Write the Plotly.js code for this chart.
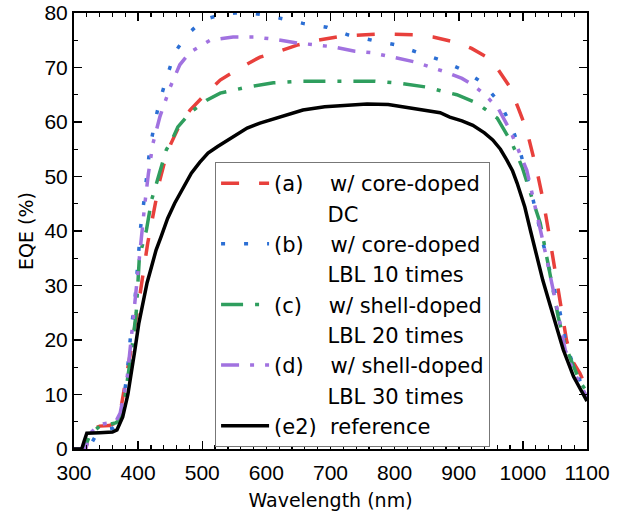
<!DOCTYPE html>
<html>
<head>
<meta charset="utf-8">
<script src="https://cdn.plot.ly/plotly-3.0.1.min.js"></script>
<style>html,body{margin:0;padding:0;background:#fff;}#chart{width:622px;height:513px;}</style>
</head>
<body>
<div id="chart"></div>
<script>
// (a) w/ core-doped DC
const wlA  = [300,318,326,340,355,366,374,382,390,400,405,410,415,421,427,434,442,451,465,481,500,528,560,590,620,648,680,710,740,772,800,829,860,882,900,920,944,962,980,993,1006,1022,1031,1040,1047,1058,1068,1078,1089,1100];
const eqeA = [0,0,3.5,4.2,4.3,4.8,8,14,19,26.1,30,34.1,37.8,41.5,45.5,49.4,53,56,59.5,62.2,64.5,67.7,70,71.9,73,74.1,75,75.6,75.9,76.1,76.1,76,75.6,75,74.5,73.5,71.9,69.5,66.4,62.5,58.5,51,46,40,35.2,27,20,16,13.9,11];
// (b) w/ core-doped LBL 10 times
const wlB  = [300,322,327,334,345,360,368,376,383,389,395,400,404,409,418,426,434,445,457,476,495,512,530,551,575,600,621,657,694,727,765,804,835,871,907,936,964,983,995,1016,1031,1045,1058,1068,1080,1090,1100];
const eqeB = [0,0,1,2.5,3.5,3.8,4.5,8,14,21.8,27.3,34,40.8,45.4,54.9,60,64,68.3,72.7,76,78,79.1,79.7,80,80,79.6,79.1,78.1,77.4,76,75,74.1,72.8,71.4,69.5,67.3,63.5,59.1,54.9,45.7,38,31,25,19,15,12.3,10];
// (c) w/ shell-doped LBL 20 times
const wlC  = [300,316,325,340,355,365,372,380,390,397,402,407,413,421,431,444,452,462,481,507,528,570,611,652,689,727,769,808,850,879,897,928,960,983,999,1013,1027,1042,1055,1066,1078,1089,1100];
const eqeC = [0,0,2.6,4.2,4.5,4.8,5.3,10,18.2,25,35.3,37.5,40.2,45.7,49.9,54.9,56.5,59.1,61.7,64,65.3,66.4,67.2,67.5,67.5,67.5,67.5,67.1,66.4,65.5,65,63.5,60.7,56.1,51.7,46.5,41.5,32.3,24.3,19,15.5,12.3,10.5];
// (d) w/ shell-doped LBL 30 times
const wlD  = [300,318,326,340,355,365,372,383,389,394,400,405,410,416,423,434,450,465,481,512,548,580,611,648,704,738,765,797,832,855,879,905,922,938,961,980,995,1006,1018,1031,1053,1066,1078,1089,1100];
const eqeD = [0,0,3,4.5,4.8,5,6.6,13.2,20,26,32.3,38.5,44.5,50.5,56,61,66.4,70.5,72.8,75,75.6,75.6,75.2,74.5,73.8,73,72.7,71.9,71,70.1,69.2,68,66.8,65.3,62.6,58.5,54.3,51.2,45,38.3,26,18.2,14.5,12.1,9.5];
// (e2) reference
const wlE  = [300,312,316,320,340,360,367,376,384,390,395,401,408,414,421,428,436,446,457,470,483,496,509,524,550,570,590,606,630,657,691,720,757,790,813,850,871,886,905,922,940,953,965,975,984,991,1003,1012,1022,1031,1040,1052,1063,1079,1090,1100];
const eqeE = [0,0,1.5,2.9,3.0,3.1,3.5,5.9,10,14,18.2,23,27.3,30.5,33.5,36.5,39,42.3,45.1,48,50.6,52.6,54.3,55.5,57.5,58.9,59.8,60.4,61.3,62.2,62.8,63,63.3,63.2,62.8,62.2,61.7,60.9,60.2,59.4,58,56.7,55,53,51,48.8,44.4,40,35.2,31,27.4,22.5,18.2,13.3,10.8,8.8];

const names = ["(a)&nbsp;&nbsp;&nbsp; w/ core-doped", "(b)&nbsp;&nbsp;&nbsp; w/ core-doped", "(c)&nbsp;&nbsp;&nbsp; w/ shell-doped", "(d)&nbsp;&nbsp;&nbsp; w/ shell-doped", "(e2)&nbsp; reference"];
const subNames = ["DC", "LBL 10 times", "LBL 20 times", "LBL 30 times"];
const pad = "&nbsp;&nbsp;&nbsp;&nbsp;&nbsp;&nbsp;&nbsp;&nbsp;";

const series = [
  {x: wlA, y: eqeA, color: "#e8403c", dash: "18px,20px", width: 3.5},
  {x: wlB, y: eqeB, color: "#2c6fd4", dash: "4px,19px", width: 3.5},
  {x: wlC, y: eqeC, color: "#2f9e5e", dash: "22px,12px,4px,12px", width: 3.5},
  {x: wlD, y: eqeD, color: "#a172e0", dash: "18px,11px,4px,11px,4px,11px", width: 3.5},
  {x: wlE, y: eqeE, color: "#000000", dash: "solid", width: 3.5}
];

const traces = [];
series.forEach((s, i) => {
  traces.push({x: s.x, y: s.y, name: names[i], mode: "lines", type: "scatter",
    line: {color: s.color, dash: s.dash, width: s.width}});
  if (i < subNames.length) {
    traces.push({x: [null], y: [null], name: pad + subNames[i], mode: "lines", type: "scatter",
      line: {color: "rgba(0,0,0,0)", width: 0}, hoverinfo: "skip"});
  }
});

const tickFont = {family: "Liberation Sans, Arial, sans-serif", size: 21, color: "#000"};
const titleFont = {family: "DejaVu Sans, sans-serif", size: 19, color: "#000"};
const layout = {
  width: 622, height: 513,
  margin: {l: 74, r: 35, t: 13, b: 64},
  paper_bgcolor: "#fff", plot_bgcolor: "#fff",
  showlegend: true,
  legend: {
    x: 0.275, y: 0.658, xanchor: "left", yanchor: "top",
    bgcolor: "#fff", bordercolor: "#777", borderwidth: 1,
    font: {family: "DejaVu Sans, sans-serif", size: 21, color: "#000"},
    itemwidth: 48, traceorder: "normal"
  },
  xaxis: {
    range: [300, 1100], dtick: 100, tick0: 300,
    ticks: "inside", ticklen: 8, tickwidth: 1.5, tickcolor: "#000",
    showline: true, linecolor: "#000", linewidth: 2, mirror: "allticks",
    showgrid: false, zeroline: false,
    tickfont: tickFont, ticklabelstandoff: 4,
    minor: {dtick: 20, ticks: "inside", ticklen: 4, tickwidth: 1.2, tickcolor: "#000", showgrid: false},
    title: {text: "Wavelength (nm)", font: titleFont, standoff: 10}
  },
  yaxis: {
    range: [0, 80], dtick: 10,
    ticks: "inside", ticklen: 8, tickwidth: 1.5, tickcolor: "#000",
    showline: true, linecolor: "#000", linewidth: 2, mirror: "allticks",
    showgrid: false, zeroline: false,
    tickfont: tickFont,
    minor: {dtick: 5, ticks: "inside", ticklen: 4, tickwidth: 1.2, tickcolor: "#000", showgrid: false},
    title: {text: "EQE (%)", font: titleFont, standoff: 6}
  }
};

Plotly.newPlot("chart", traces, layout, {staticPlot: true, displayModeBar: false});
</script>
</body>
</html>
